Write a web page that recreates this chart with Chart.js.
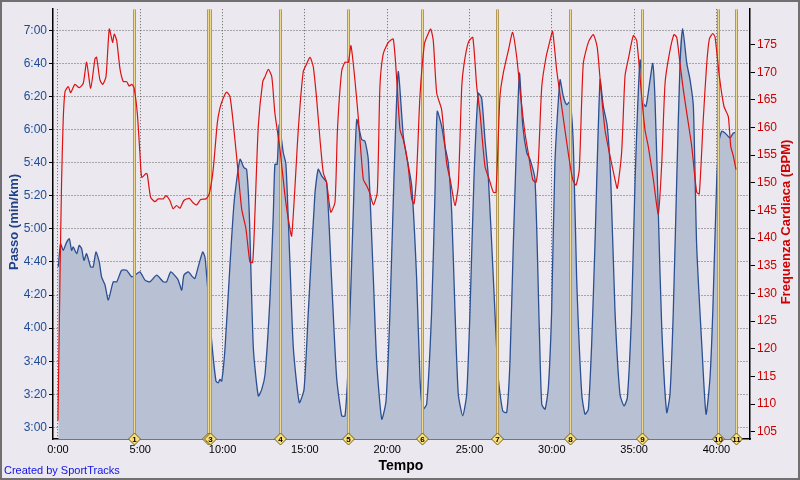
<!DOCTYPE html>
<html>
<head>
<meta charset="utf-8">
<script src="https://cdn.jsdelivr.net/npm/chart.js@4/dist/chart.umd.min.js"></script>
<style>
  html, body { margin: 0; padding: 0; background: #EBE9EF; }
  canvas { display: block; }
</style>
</head>
<body>
<canvas id="chart" width="800" height="480"></canvas>
<script>
// elapsed time in minutes, pace in seconds per km
const paceTime = [
    0.02, 0.16, 0.32, 0.53, 0.69, 0.83, 0.93, 1.14, 1.29, 1.44,
    1.58, 1.74, 1.99, 2.14, 2.31, 2.51, 2.65, 2.86, 3.06, 3.36,
    3.57, 3.87, 4.17, 4.48, 4.68, 4.98, 5.29, 5.59, 6.00, 6.40,
    6.60, 6.85, 7.17, 7.31, 7.52, 7.65, 7.92, 8.18, 8.32, 8.52,
    8.79, 8.93, 9.13, 9.34, 9.60, 9.74, 9.84, 9.95, 10.15, 10.45,
    10.71, 11.06, 11.30, 11.46, 11.62, 11.87, 12.17, 12.38, 12.58, 12.88,
    13.08, 13.18, 13.32, 13.44, 13.69, 13.85, 14.09, 14.30, 14.66, 14.95,
    15.21, 15.61, 15.81, 16.02, 16.32, 16.62, 16.93, 17.24, 17.44, 17.64,
    17.94, 18.15, 18.45, 18.65, 18.85, 19.16, 19.36, 19.67, 19.93, 20.17,
    20.41, 20.67, 20.98, 21.18, 21.49, 21.79, 21.99, 22.16, 22.40, 22.70,
    22.90, 23.04, 23.31, 23.51, 23.71, 23.92, 24.12, 24.32, 24.59, 24.83,
    25.03, 25.27, 25.53, 25.74, 25.94, 26.14, 26.45, 26.75, 27.02, 27.26,
    27.46, 27.66, 28.03, 28.24, 28.48, 28.68, 28.98, 29.24, 29.39, 29.59,
    29.79, 29.99, 30.19, 30.50, 30.70, 30.91, 31.11, 31.31, 31.51, 31.82,
    32.02, 32.22, 32.42, 32.62, 32.93, 33.13, 33.37, 33.58, 33.84, 34.14,
    34.39, 34.59, 34.85, 35.06, 35.36, 35.56, 35.72, 35.97, 36.13, 36.27,
    36.47, 36.68, 36.98, 37.18, 37.38, 37.59, 37.79, 37.95, 38.20, 38.40,
    38.60, 38.80, 39.11, 39.37, 39.61, 39.78, 40.02, 40.18, 40.32, 40.52,
    40.83, 41.03, 41.19
];
const paceSec = [
    277, 291, 287, 292, 294, 287, 289, 285, 290, 288,
    281, 285, 277, 277, 286, 280, 271, 266, 257, 268,
    268, 275, 275, 271, 272, 274, 269, 268, 272, 268,
    268, 274, 271, 269, 263, 272, 274, 271, 270, 277,
    286, 283, 260, 232, 208, 207, 209, 208, 228, 278,
    317, 342, 337, 336, 310, 228, 199, 203, 212, 258,
    308, 339, 339, 363, 346, 339, 280, 228, 195, 203,
    250, 321, 336, 332, 328, 270, 210, 187, 187, 220,
    310, 366, 354, 353, 342, 270, 220, 185, 196, 250,
    330, 395, 356, 344, 326, 270, 210, 191, 194, 250,
    320, 371, 362, 350, 340, 310, 250, 200, 187, 200,
    250, 330, 382, 379, 354, 332, 270, 210, 190, 189,
    220, 290, 394, 362, 346, 342, 330, 240, 194, 191,
    204, 250, 340, 390, 380, 375, 377, 350, 270, 200,
    188, 191, 230, 290, 390, 374, 362, 330, 250, 200,
    193, 198, 250, 330, 402, 376, 374, 390, 400, 378,
    310, 240, 189, 200, 250, 330, 400, 421, 400, 390,
    374, 290, 230, 188, 210, 250, 330, 354, 359, 358,
    355, 358, 358
];

const hrTime = [
    0.00, 0.12, 0.22, 0.32, 0.43, 0.63, 0.77, 1.03, 1.29, 1.54,
    1.74, 1.99, 2.25, 2.35, 2.55, 2.72, 2.92, 3.12, 3.32, 3.42,
    3.57, 3.77, 3.97, 4.17, 4.33, 4.48, 4.62, 4.82, 4.98, 5.09,
    5.35, 5.43, 5.63, 5.89, 6.09, 6.40, 6.56, 6.80, 7.00, 7.21,
    7.41, 7.65, 7.98, 8.18, 8.43, 8.67, 8.99, 9.19, 9.43, 9.68,
    9.84, 10.04, 10.25, 10.45, 10.65, 10.95, 11.16, 11.42, 11.66, 11.83,
    11.97, 12.17, 12.44, 12.58, 12.78, 12.99, 13.18, 13.49, 13.79, 13.99,
    14.20, 14.60, 14.90, 15.11, 15.31, 15.51, 15.72, 15.92, 16.12, 16.32,
    16.57, 16.83, 16.98, 17.24, 17.44, 17.64, 17.80, 18.04, 18.24, 18.55,
    18.75, 18.96, 19.16, 19.40, 19.56, 19.76, 20.07, 20.37, 20.58, 20.78,
    20.98, 21.25, 21.49, 21.63, 21.79, 21.99, 22.26, 22.44, 22.64, 22.80,
    23.01, 23.31, 23.61, 23.86, 24.12, 24.32, 24.53, 24.67, 24.93, 25.20,
    25.44, 25.64, 25.94, 26.20, 26.45, 26.61, 26.85, 27.05, 27.36, 27.62,
    27.87, 28.11, 28.37, 28.57, 28.84, 29.04, 29.18, 29.39, 29.65, 29.89,
    30.05, 30.30, 30.60, 31.00, 31.27, 31.47, 31.67, 31.91, 32.22, 32.52,
    32.76, 32.97, 33.23, 33.54, 33.84, 33.98, 34.24, 34.45, 34.65, 34.95,
    35.16, 35.46, 35.66, 35.86, 36.17, 36.47, 36.68, 36.88, 37.14, 37.42,
    37.59, 37.79, 37.99, 38.20, 38.50, 38.80, 38.96, 39.20, 39.41, 39.57,
    39.78, 39.92, 40.18, 40.46, 40.72, 40.87, 41.03, 41.19
];
const hrBpm = [
    107, 132, 150, 161.4, 166.5, 167.4, 166.3, 167.8, 167.2, 168.0,
    171.8, 167.1, 172.4, 172.7, 168.6, 167.8, 169.2, 177.8, 175.4, 176.9,
    175.7, 170.6, 168.3, 168.3, 167.5, 167.8, 167.2, 162.6, 155.4, 151.0,
    151.7, 151.5, 147.4, 146.6, 147.1, 147.1, 147.7, 146.8, 145.3, 145.9,
    145.4, 146.8, 147.2, 146.5, 146.0, 147.0, 147.1, 148.0, 152.4, 160.8,
    163.5, 165.3, 166.4, 165.6, 160.8, 151.8, 145.3, 141.7, 135.7, 135.6,
    144.7, 160.2, 168.3, 169.2, 170.5, 169.2, 162.6, 156.0, 147.7, 143.5,
    140.4, 159.6, 170.1, 171.5, 172.7, 171.0, 165.0, 157.8, 151.8, 150.1,
    144.7, 146.5, 159.6, 170.3, 171.8, 171.8, 174.8, 168.6, 162.0, 150.6,
    149.5, 148.0, 146.0, 148.3, 167.4, 173.3, 175.4, 176.0, 168.6, 159.6,
    157.8, 153.6, 147.1, 146.2, 151.8, 165.6, 175.1, 176.6, 177.8, 175.7,
    166.2, 163.2, 153.6, 150.1, 145.9, 149.5, 167.4, 171.5, 175.4, 176.3,
    167.4, 162.6, 153.0, 150.6, 148.3, 148.3, 165.6, 169.8, 173.9, 177.2,
    172.7, 165.6, 159.0, 155.4, 150.6, 150.1, 153.6, 167.4, 172.7, 175.7,
    177.4, 170.3, 163.8, 155.4, 150.6, 149.6, 152.4, 171.5, 175.4, 176.8,
    174.5, 167.4, 159.6, 154.8, 150.6, 149.0, 155.4, 169.4, 172.4, 176.6,
    175.7, 165.6, 159.6, 156.6, 150.6, 144.4, 153.6, 168.0, 173.3, 176.8,
    176.3, 171.5, 166.8, 162.6, 156.6, 148.3, 148.0, 161.4, 171.5, 176.0,
    177.0, 176.3, 169.2, 163.8, 162.0, 156.6, 154.8, 152.4
];

// lap markers (minutes) and their numbers
const lapTimes = [4.64, 9.13, 9.23, 13.49, 17.64, 22.11, 26.69, 31.12, 35.50, 40.12, 41.19];
const lapLabels = ['1', '2', '3', '4', '5', '6', '7', '8', '9', '10', '11'];

// tick labels
const timeTicks = [0, 5, 10, 15, 20, 25, 30, 35, 40];
const paceTicks = [180, 200, 220, 240, 260, 280, 300, 320, 340, 360, 380, 400, 420];
const hrTicks = [105, 110, 115, 120, 125, 130, 135, 140, 145, 150, 155, 160, 165, 170, 175];

const FONT = '"Liberation Sans", Arial, sans-serif';
Chart.defaults.font.family = FONT;

function fmtPace(v) {
    const m = Math.floor(v / 60);
    const s = Math.round(v % 60);
    return m + ':' + String(s).padStart(2, '0');
}

// laps drawn right after the pace area, so the HR line sits on top
const lapLines = {
    id: 'lapLines',
    afterDatasetDraw(chart, args) {
        if (args.meta.yAxisID !== 'yPace') return;
        const {ctx, chartArea} = chart;
        const x = chart.scales.x;
        ctx.save();
        ctx.beginPath();
        ctx.rect(chartArea.left, chartArea.top, chartArea.right - chartArea.left, chartArea.bottom - chartArea.top);
        ctx.clip();
        lapTimes.forEach(t => {
            const px = Math.round(x.getPixelForValue(t)) + 0.5;
            ctx.strokeStyle = '#B49A58';
            ctx.lineWidth = 3;
            ctx.beginPath();
            ctx.moveTo(px, chartArea.top);
            ctx.lineTo(px, chartArea.bottom);
            ctx.stroke();
            ctx.strokeStyle = '#EDD894';
            ctx.lineWidth = 1;
            ctx.beginPath();
            ctx.moveTo(px, chartArea.top);
            ctx.lineTo(px, chartArea.bottom);
            ctx.stroke();
        });
        ctx.restore();
    }
};

const frame = {
    id: 'frame',
    beforeDraw(chart) {
        const ctx = chart.ctx;
        ctx.save();
        ctx.fillStyle = '#EBE9EF';
        ctx.fillRect(0, 0, chart.width, chart.height);
        ctx.restore();
    },
    afterDraw(chart) {
        const {ctx, chartArea} = chart;
        const x = chart.scales.x;
        ctx.save();

        // lap diamonds on the time axis
        lapTimes.forEach((t, i) => {
            const px = Math.round(x.getPixelForValue(t)) + 0.5;
            const py = chartArea.bottom;
            ctx.beginPath();
            ctx.moveTo(px, py - 6);
            ctx.lineTo(px + 6, py);
            ctx.lineTo(px, py + 6);
            ctx.lineTo(px - 6, py);
            ctx.closePath();
            ctx.fillStyle = '#F8E07A';
            ctx.fill();
            ctx.strokeStyle = '#6E5C22';
            ctx.lineWidth = 1;
            ctx.stroke();
            ctx.fillStyle = '#000';
            ctx.font = 'bold 8px ' + FONT;
            ctx.textAlign = 'center';
            ctx.textBaseline = 'middle';
            ctx.fillText(lapLabels[i], px, py + 0.5);
        });

        // axis titles
        ctx.textAlign = 'center';
        ctx.textBaseline = 'middle';
        ctx.font = 'bold 13px ' + FONT;
        ctx.save();
        ctx.translate(14, 222);
        ctx.rotate(-Math.PI / 2);
        ctx.fillStyle = '#1F4188';
        ctx.fillText('Passo (min/km)', 0, 0);
        ctx.restore();

        ctx.save();
        ctx.translate(786, 222);
        ctx.rotate(-Math.PI / 2);
        ctx.fillStyle = '#D00000';
        ctx.fillText('Frequenza Cardiaca (BPM)', 0, 0);
        ctx.restore();

        ctx.font = 'bold 14px ' + FONT;
        ctx.fillStyle = '#000';
        ctx.fillText('Tempo', 401, 466);

        ctx.font = '11px ' + FONT;
        ctx.textAlign = 'left';
        ctx.fillStyle = '#1010E8';
        ctx.fillText('Created by SportTracks', 4, 471);

        // outer frame
        ctx.strokeStyle = '#707070';
        ctx.lineWidth = 2;
        ctx.strokeRect(1, 1, chart.width - 2, chart.height - 2);
        ctx.restore();
    }
};

new Chart(document.getElementById('chart'), {
    type: 'line',
    data: {
        datasets: [{
            label: 'Frequenza Cardiaca',
            data: hrTime.map((t, i) => ({x: t, y: hrBpm[i]})),
            yAxisID: 'yHR',
            borderColor: '#DD1111',
            borderWidth: 1.2,
            pointRadius: 0,
            tension: 0.2,
            fill: false,
            order: 0
        }, {
            label: 'Passo',
            data: paceTime.map((t, i) => ({x: t, y: paceSec[i]})),
            yAxisID: 'yPace',
            borderColor: '#2A4F92',
            backgroundColor: '#B8C0D3',
            borderWidth: 1.3,
            pointRadius: 0,
            tension: 0.2,
            fill: 'start',
            order: 1
        }]
    },
    options: {
        responsive: false,
        animation: false,
        devicePixelRatio: 1,
        layout: { padding: {top: 5, left: 0, right: 0, bottom: 0} },
        plugins: {
            legend: { display: false },
            tooltip: { enabled: false }
        },
        scales: {
            x: {
                type: 'linear',
                min: -0.30,
                max: 42.04,
                afterBuildTicks: s => { s.ticks = timeTicks.map(v => ({value: v})); },
                afterFit: s => { s.height = 41; },
                ticks: {
                    callback: v => v + ':00',
                    color: '#000',
                    font: {size: 11},
                    padding: 4,
                    autoSkip: false,
                    maxRotation: 0
                },
                grid: { color: '#606060', drawTicks: false },
                border: { color: '#000', width: 1.5, dash: [1, 2] }
            },
            yPace: {
                position: 'left',
                min: 173,
                max: 432.75,
                afterBuildTicks: s => { s.ticks = paceTicks.map(v => ({value: v})); },
                afterFit: s => { s.width = 53; },
                ticks: {
                    callback: v => fmtPace(v),
                    color: '#1F4B94',
                    font: {size: 12},
                    padding: 2
                },
                grid: { color: '#606060', drawTicks: true, tickLength: 4, tickColor: '#000' },
                border: { color: '#000', width: 1.5, dash: [1, 2] }
            },
            yHR: {
                position: 'right',
                min: 103.69,
                max: 181.39,
                afterBuildTicks: s => { s.ticks = hrTicks.map(v => ({value: v})); },
                afterFit: s => { s.width = 50; },
                ticks: {
                    color: '#CC0000',
                    font: {size: 12},
                    padding: 2
                },
                grid: { drawOnChartArea: false, drawTicks: true, tickLength: 5, color: '#000' },
                border: { color: '#000', width: 1.5 }
            }
        }
    },
    plugins: [lapLines, frame]
});
</script>
</body>
</html>
